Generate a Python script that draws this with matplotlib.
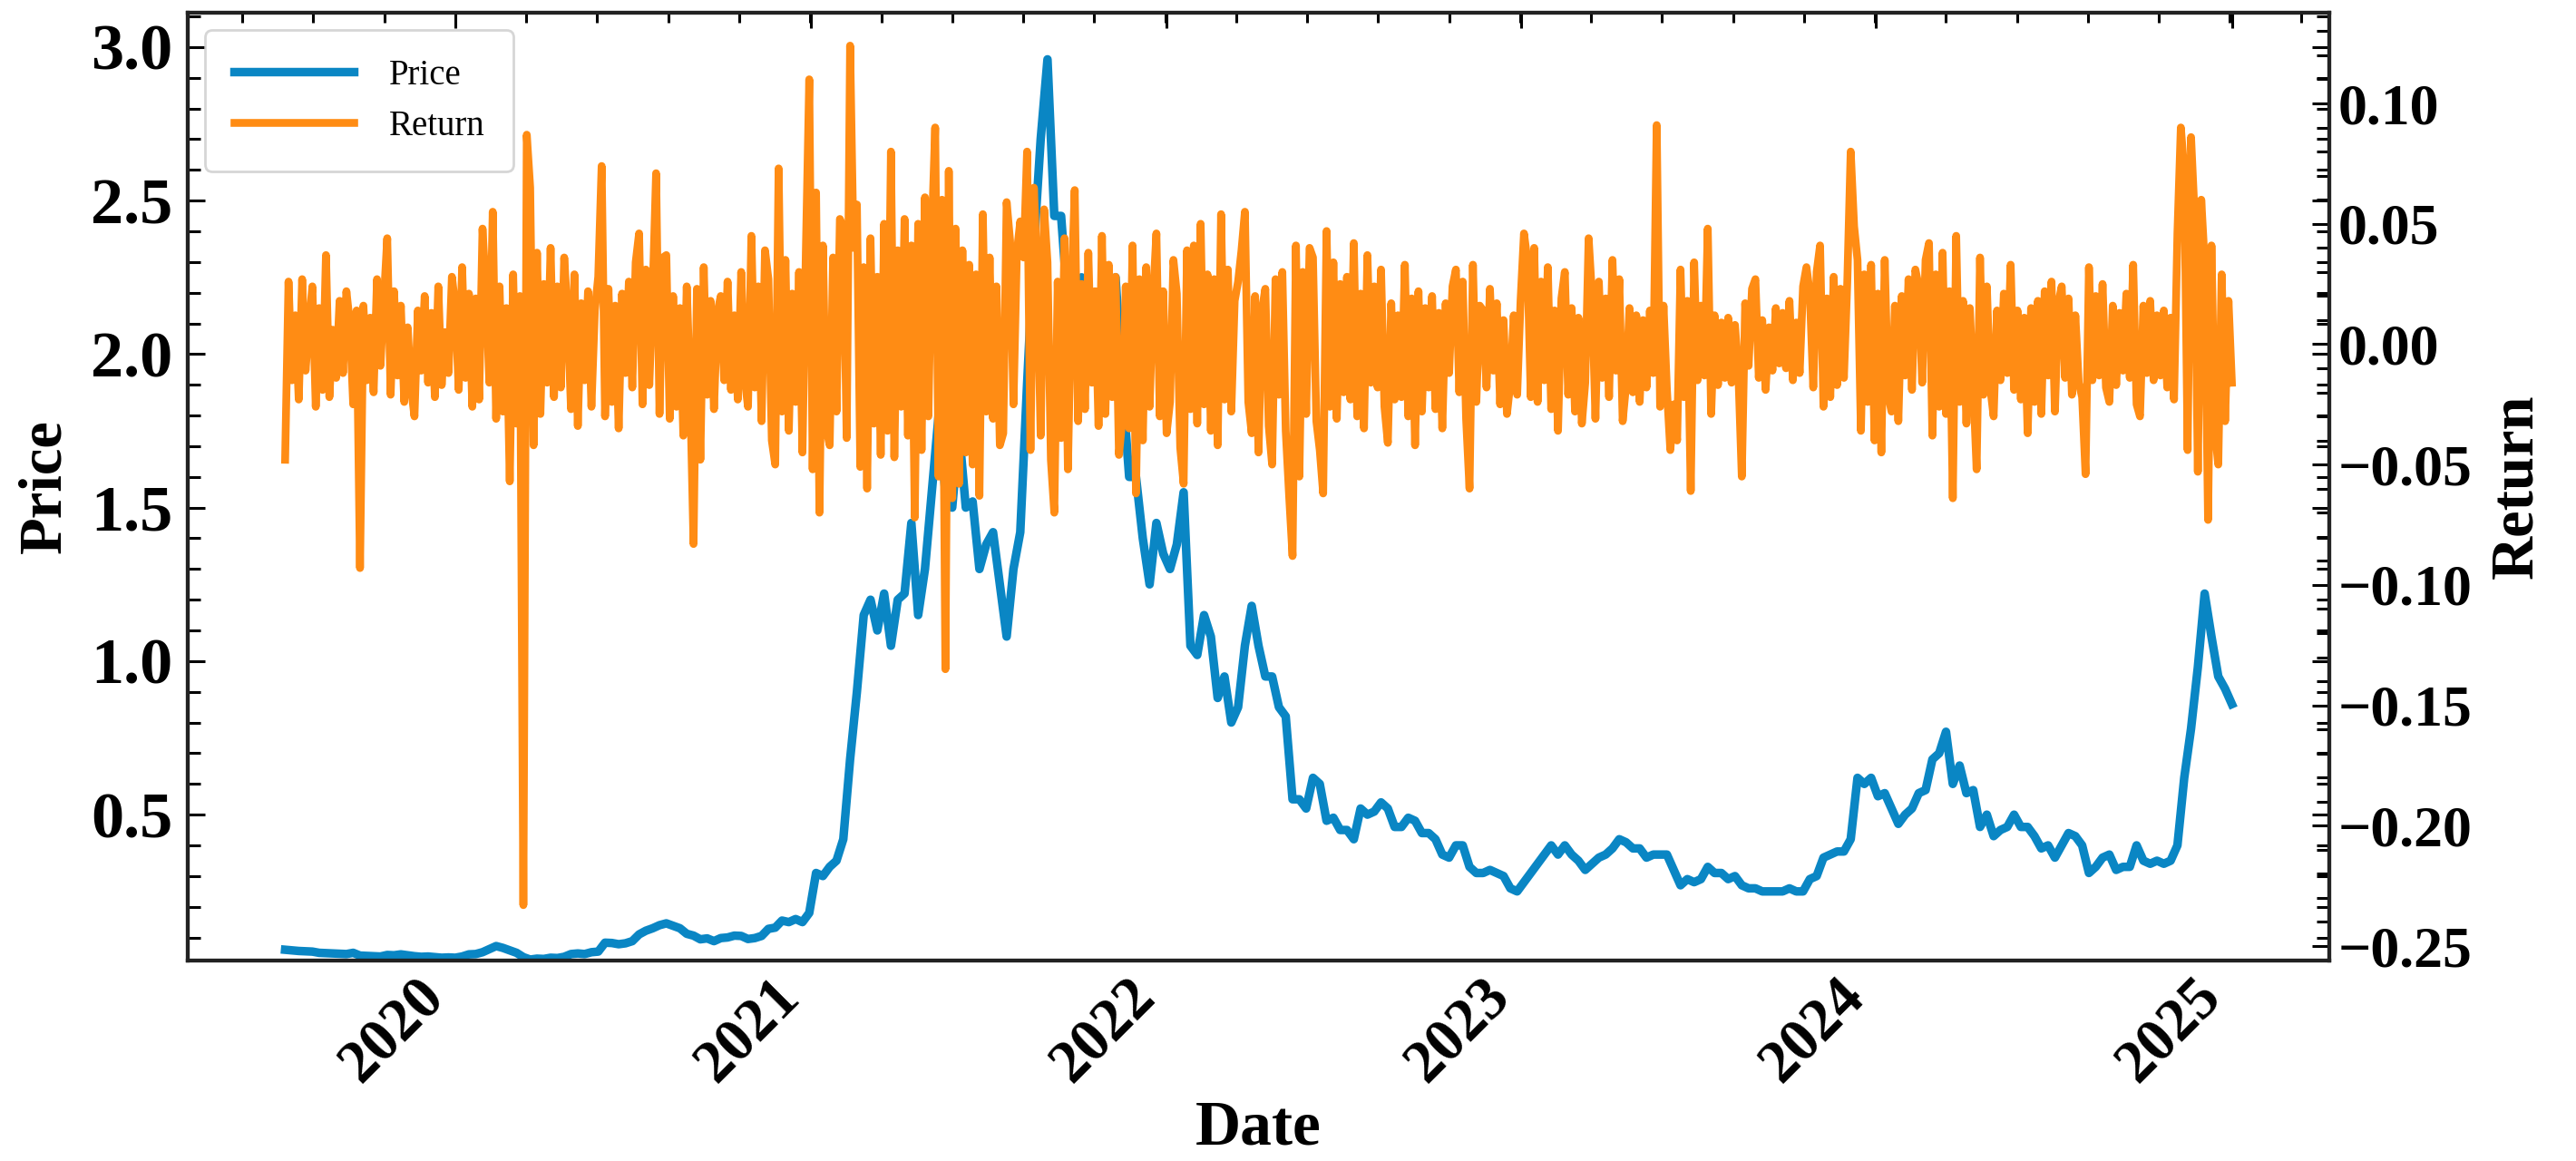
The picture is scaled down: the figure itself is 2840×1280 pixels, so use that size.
import numpy as np
import pandas as pd
import matplotlib
matplotlib.use('Agg')
import matplotlib.pyplot as plt
import matplotlib.dates as mdates
from matplotlib.ticker import AutoMinorLocator, MultipleLocator

# weekly closing price, one value every 7 days starting 2019-07-10
price = [
    # 2019
    0.060, 0.058, 0.056, 0.055, 0.054, 0.050, 0.049, 0.048, 0.047, 0.046,
    0.050, 0.041, 0.040, 0.039, 0.038, 0.043, 0.042, 0.045, 0.042, 0.039,
    0.037, 0.038, 0.036, 0.034, 0.035,
    # 2020
    0.034, 0.038, 0.045, 0.046, 0.052, 0.062, 0.072, 0.066, 0.058, 0.050,
    0.036, 0.028, 0.031, 0.030, 0.034, 0.033, 0.037, 0.046, 0.048, 0.046,
    0.052, 0.054, 0.083, 0.082, 0.078, 0.081, 0.088, 0.110, 0.122, 0.130,
    0.140, 0.146, 0.138, 0.130, 0.112, 0.106, 0.094, 0.097, 0.088, 0.098,
    0.100, 0.106, 0.105, 0.095, 0.098, 0.105, 0.128, 0.132, 0.155, 0.150,
    0.160, 0.150, 0.180,
    # 2021
    0.31, 0.30, 0.33, 0.35, 0.42, 0.68, 0.90, 1.15, 1.20, 1.10,
    1.22, 1.05, 1.20, 1.22, 1.45, 1.15, 1.30, 1.55, 1.80, 1.55,
    1.50, 1.75, 1.50, 1.52, 1.30, 1.38, 1.42, 1.25, 1.08, 1.30,
    1.42, 1.90, 2.35, 2.70, 2.96, 2.45, 2.45, 2.15, 2.10, 2.25,
    2.15, 2.20, 1.95, 2.05, 2.25, 1.90, 1.60, 1.60, 1.40, 1.25,
    1.45, 1.35,
    # 2022
    1.30, 1.38, 1.55, 1.05, 1.02, 1.15, 1.08, 0.88, 0.95, 0.80,
    0.85, 1.05, 1.18, 1.05, 0.95, 0.95, 0.85, 0.82, 0.55, 0.55,
    0.52, 0.62, 0.60, 0.48, 0.49, 0.45, 0.45, 0.42, 0.52, 0.50,
    0.51, 0.54, 0.52, 0.46, 0.46, 0.49, 0.48, 0.44, 0.44, 0.42,
    0.37, 0.36, 0.40, 0.40, 0.33, 0.31, 0.31, 0.32, 0.31, 0.30,
    0.26, 0.25,
    # 2023
    0.28, 0.31, 0.34, 0.37, 0.40, 0.37, 0.40, 0.37, 0.35, 0.32,
    0.34, 0.36, 0.37, 0.39, 0.42, 0.41, 0.39, 0.39, 0.36, 0.37,
    0.37, 0.37, 0.32, 0.27, 0.29, 0.28, 0.29, 0.33, 0.31, 0.31,
    0.29, 0.30, 0.27, 0.26, 0.26, 0.25, 0.25, 0.25, 0.25, 0.26,
    0.25, 0.25, 0.29, 0.30, 0.36, 0.37, 0.38, 0.38, 0.42, 0.62,
    0.60, 0.62,
    # 2024 + 2025-01-01
    0.56, 0.57, 0.52, 0.47, 0.50, 0.52, 0.57, 0.58, 0.68, 0.70,
    0.77, 0.60, 0.66, 0.57, 0.58, 0.46, 0.50, 0.43, 0.45, 0.46,
    0.50, 0.46, 0.46, 0.43, 0.39, 0.40, 0.36, 0.40, 0.44, 0.43,
    0.40, 0.31, 0.33, 0.36, 0.37, 0.32, 0.33, 0.33, 0.40, 0.35,
    0.34, 0.35, 0.34, 0.35, 0.40, 0.62, 0.78, 0.98, 1.22, 1.08,
    0.95, 0.91, 0.86,
]

# return in percent, one value every 3.5 days starting 2019-07-10 (8 values = 28 days)
ret_pct = [
    -4.8, 2.6, -1.5, 1.2, -2.3, 2.7, -1.1, 0.8,        # 2019-07-10
    2.4, -2.6, 1.5, -1.9, 3.7, -2.2, 0.6, -1.4,
    1.8, -1.2, 2.2, 0.9, -2.5, 1.4, -9.3, 1.6,
    -1.5, 1.1, -2.0, 2.7, -0.9, 1.8, 4.4, -2.1,
    2.2, -1.3, 1.6, -2.4, 0.7, -1.8, -3.0, 1.4,
    -1.1, 2.0, -1.6, 1.3, -2.2, 2.4, -1.7, 0.5,
    -1.2, 2.8, 1.6, -1.9, 3.2, -1.4, 2.1, -2.6,
    1.9, -2.3, 4.8, 2.2, -1.6, 5.5, -3.1, 2.4,         # 2020-01-22
    -2.8, 1.5, -5.7, 2.9, -3.3, 2.0, -23.3, 8.7,
    6.5, -4.2, 3.8, -2.9, 2.5, -1.6, 4.0, -2.2,
    2.4, -1.8, 3.6, 1.2, -2.7, 2.9, -3.4, 1.7,
    -1.5, 2.2, -2.6, 1.4, 2.8, 7.4, -3.0, 2.3,
    -2.4, 1.6, -3.5, 2.1, -1.2, 2.6, -1.8, 3.4,
    4.6, -2.5, 3.1, -1.7, 2.2, 7.1, -2.9, 3.6,
    3.7, -3.1, 2.0, -2.6, 1.5, -3.8, 2.4, -1.9,
    -8.3, 2.3, -4.8, 3.2, -2.1, 1.8, -2.7, 1.3,
    2.0, -1.5, 2.6, -1.9, 1.2, -2.3, 3.0, -1.4,
    -2.6, 4.5, -1.8, 2.4, -3.2, 3.9, 2.7, -4.0,
    -5.0, 7.3, -2.8, 3.5, -3.6, 2.1, -2.4, 3.0,
    -4.5, 3.8, 11.0, -5.2, 6.3, -7.0, 4.1, -3.5,
    -4.2, 3.6, -2.8, 5.2, 4.8, -3.9, 12.4, 4.0,        # 2021-01-20
    5.8, -5.1, 3.2, -6.0, 4.4, -3.3, 2.8, -4.6,
    5.0, -3.6, 8.0, -4.7, 3.9, -2.6, 5.2, -3.8,
    4.1, -7.2, 5.0, -4.4, 6.1, -3.0, 4.6, 9.0,
    -5.5, 6.0, -13.5, 7.2, -6.4, 4.8, -5.8, 3.9,
    -4.5, 3.3, -5.0, 2.9, -6.3, 5.4, -2.8, 3.6,
    -3.1, 2.4, -4.2, -3.7, 5.9, 4.3, -2.5, 3.8,
    5.1, 3.6, 8.0, -4.4, 6.5, 2.9, -3.8, 5.6,
    3.4, -4.8, -7.0, 2.6, -3.9, 4.4, -5.2, 2.0,
    6.4, -3.2, 2.5, -2.7, 3.8, -1.6, 2.2, -3.4,
    4.5, -2.9, 3.3, -2.2, 2.8, -4.6, -3.1, 2.4,
    -3.5, 4.1, -6.2, 2.7, -4.0, 3.2, -2.6, 1.9,
    4.6, -3.0, 2.2, -3.7, -2.4, 3.5, 2.1, -4.3,
    -5.8, 3.9, -2.7, 4.1, -3.3, 5.0, -2.5, 2.9,        # 2022-01-19
    -3.6, 2.7, -4.2, 5.4, -2.3, 3.1, -2.8, 1.8,
    2.6, 3.9, 5.5, -2.4, -3.7, 2.0, -4.5, 1.4,
    2.3, -3.4, -5.0, 2.7, -2.1, 3.0, -3.6, -6.3,
    -8.8, 4.1, -5.5, 3.0, -2.9, 4.0, 3.6, -3.2,
    -4.4, -6.2, 4.7, -2.6, 3.4, -3.1, 2.5, -2.0,
    2.8, -2.3, 4.2, -3.0, 2.1, -3.5, 3.7, -1.6,
    2.4, -1.8, 3.1, -2.6, -4.1, 1.7, -2.3, 1.2,
    -2.2, 3.3, -3.0, 1.9, -4.2, 2.2, -2.8, 1.5,
    -1.8, 2.0, -2.7, 1.3, -3.5, 1.7, -1.2, 2.4,
    3.1, -2.0, 2.6, -3.1, -6.0, 3.3, -2.4, 1.6,
    1.4, -1.8, 2.3, -1.1, 1.7, -2.5, 1.0, -2.9,
    -1.6, 1.2, -2.1, 1.8, 4.6, 3.5, -2.2, 4.0,
    -2.4, 2.6, -1.5, 3.2, -2.7, 1.4, -3.6, 1.9,        # 2023-01-18
    3.0, -2.1, 1.5, -2.8, 1.1, -3.3, -1.6, 4.4,
    2.0, -3.1, 2.6, -1.4, 1.9, -2.2, 3.5, -1.1,
    2.7, -3.2, -1.7, 1.5, -2.0, 1.2, -2.4, 1.0,
    -1.8, 1.4, -1.2, 9.1, -2.6, 1.6, -1.9, -4.4,
    -2.5, -4.0, 3.1, -2.2, 1.8, -6.1, 3.4, -1.5,
    1.6, -1.3, 4.8, -2.9, 1.2, -1.7, 0.9, -1.4,
    1.1, -1.6, 0.8, -1.2, -5.5, 1.7, -0.9, 2.3,
    2.7, -1.4, 1.0, -1.9, 0.7, -1.1, 1.5, -0.8,
    1.3, -1.0, 1.8, -1.5, 0.9, -1.2, 2.4, 3.2,
    2.1, -1.8, 3.0, 4.1, -2.6, 1.9, -2.2, 2.8,
    -1.7, 2.3, -1.4, 2.6, 8.0, 4.9, 3.5, -3.6,
    2.9, -2.4, 3.3, -4.0, 2.1, -4.5, 3.5, -2.1,
    -2.8, 1.6, -3.2, 2.0, -1.3, 2.7, -1.9, 3.1,        # 2024-01-17
    2.4, -1.6, 3.5, 4.2, -3.8, 2.9, -2.6, 3.8,
    -2.9, 2.2, -6.4, 4.5, -2.4, 1.8, -3.3, 1.5,
    -1.7, -5.2, 3.6, -2.1, 2.4, -1.8, -3.0, 1.4,
    -1.5, 2.1, -1.2, 3.3, -1.9, 1.4, -2.3, 1.1,
    -3.7, 1.5, -2.4, 1.8, -2.9, 2.2, -1.3, 2.6,
    -2.8, 1.7, 2.4, -1.4, 1.9, -2.1, 1.2, -1.6,
    -2.2, -5.4, 3.2, -1.5, 2.0, -1.3, 2.5, -1.8,
    -2.4, 1.6, -1.7, 1.3, -1.1, 2.1, -1.4, 3.3,
    -2.5, -3.0, 1.6, -1.2, 1.8, -1.5, 1.2, -1.3,
    1.4, -1.8, 1.1, -2.3, 4.6, 9.0, 7.2, -4.4,
    8.6, 5.5, -5.3, 6.0, 3.4, -7.3, 4.1, -3.6,
    -5.0, 2.9, -3.2, 1.8, -1.6,
]

price_dates = pd.date_range('2019-07-10', periods=len(price), freq='7D')
ret_dates = pd.date_range('2019-07-10', periods=len(ret_pct), freq='84h')
ret = np.array(ret_pct) / 100.0

BLUE = '#0A86C4'
ORANGE = '#FF8C14'

plt.rcParams['font.family'] = ['Liberation Serif', 'DejaVu Serif']
plt.rcParams['font.weight'] = 'bold'
plt.rcParams['axes.labelweight'] = 'bold'
plt.rcParams['axes.linewidth'] = 1.5
plt.rcParams['axes.edgecolor'] = '#222222'

fig, ax = plt.subplots(figsize=(14.2, 6.4), dpi=200)
fig.subplots_adjust(left=0.0729, right=0.9042, top=0.9891, bottom=0.1727)

l1, = ax.plot(price_dates, price, color=BLUE, lw=3.4, label='Price')
ax2 = ax.twinx()
l2, = ax2.plot(ret_dates, ret, color=ORANGE, lw=3.1, label='Return')

pad = (price_dates[-1] - price_dates[0]) * 0.05
ax.set_xlim(price_dates[0] - pad, price_dates[-1] + pad)
ax.set_ylim(0.025, 3.112)
ax2.set_ylim(-0.256, 0.1377)

ax.xaxis.set_major_locator(mdates.YearLocator())
ax.xaxis.set_major_formatter(mdates.DateFormatter('%Y'))
ax.xaxis.set_minor_locator(AutoMinorLocator(5))
ax.yaxis.set_major_locator(MultipleLocator(0.5))
ax.yaxis.set_minor_locator(MultipleLocator(0.1))
ax2.yaxis.set_major_locator(MultipleLocator(0.05))
ax2.yaxis.set_minor_locator(MultipleLocator(0.01))

ax.tick_params(axis='x', which='both', direction='in', bottom=False, top=True,
               labelbottom=True, labelsize=24, width=1.1, labelrotation=45)
ax.tick_params(axis='x', which='major', length=6)
ax.tick_params(axis='x', which='minor', length=4)
ax.tick_params(axis='y', which='both', direction='in', left=True, right=True,
               labelsize=26, width=1.1, pad=6)
ax.tick_params(axis='y', which='major', length=7)
ax.tick_params(axis='y', which='minor', length=5)
ax2.tick_params(axis='y', which='both', direction='in', left=False, right=True,
                labelsize=23, width=1.1)
ax2.tick_params(axis='y', which='major', length=7)
ax2.tick_params(axis='y', which='minor', length=5)
for lbl in ax.get_xticklabels():
    lbl.set_ha('right')

ax.set_xlabel('Date', fontsize=25)
ax.xaxis.set_label_coords(0.5, -0.147)
ax.set_ylabel('Price', fontsize=24)
ax.yaxis.set_label_coords(-0.0535, 0.5)
ax2.set_ylabel('Return', fontsize=24)
ax2.yaxis.set_label_coords(1.0745, 0.5)

ax.legend([l1, l2], ['Price', 'Return'], loc='upper left',
          prop={'weight': 'normal', 'size': 14}, borderpad=0.8,
          handlelength=3.4, handletextpad=1.0)

fig.savefig('out.png', dpi=200)
